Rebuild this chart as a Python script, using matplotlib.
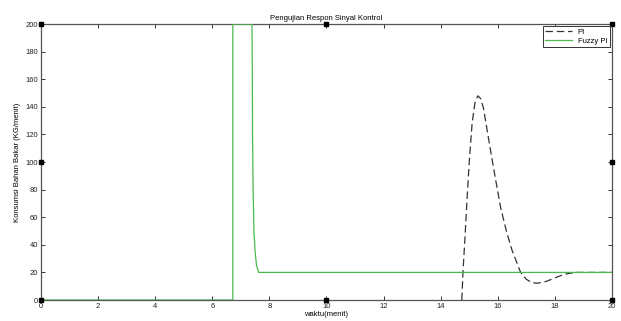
import matplotlib
matplotlib.use("Agg")
import matplotlib.pyplot as plt

# PI response (dashed)
pi_t = [14.74, 14.78, 14.85, 14.92, 15.0, 15.1, 15.2, 15.3, 15.4, 15.5, 15.7, 15.9,
        16.1, 16.3, 16.5, 16.8, 17.0, 17.2, 17.4, 17.7, 18.0, 18.3, 18.7, 20]
pi_v = [0, 20, 45, 72, 100, 128, 143, 148, 146, 139, 114, 90,
        67, 50, 36, 20, 15, 12.5, 12.2, 13.5, 16, 18.5, 20, 20]

# Fuzzy PI response
fz_t = [0, 6.72, 6.72, 7.39, 7.40, 7.41, 7.43, 7.46, 7.50, 7.55, 7.62, 7.70, 20]
fz_v = [0, 0, 200, 200, 175, 120, 80, 50, 35, 25, 20, 20, 20]

xticks = list(range(0, 21, 2))
yticks = list(range(0, 201, 20))

plt.rcParams['font.family'] = ['Liberation Sans', 'DejaVu Sans']
fig = plt.figure(figsize=(6.21, 3.21), dpi=100)
ax = fig.add_axes([0.066, 0.0654, 0.9195, 0.8596])

ax.plot(pi_t, pi_v, color="#333333", linestyle=(0, (6, 3)), linewidth=0.9, label="PI")
ax.plot(fz_t, fz_v, color="#4cb84c", linewidth=0.9, label="Fuzzy PI", zorder=3)

ax.set_xlim(0, 20)
ax.set_ylim(0, 200)
ax.set_xticks(xticks)
ax.set_yticks(yticks)
ax.tick_params(direction="in", length=3, width=0.7, labelsize=5.5, pad=2,
               top=True, right=True, color="#333333", labelcolor="#222222")
for s in ax.spines.values():
    s.set_color("#555555")
    s.set_linewidth(0.9)

ax.set_title("Pengujian Respon Sinyal Kontrol", fontsize=5.5, pad=3)
ax.set_xlabel("waktu(menit)", fontsize=5.5, labelpad=1)
ax.set_ylabel("Konsumsi Bahan Bakar (KG/menit)", fontsize=5.5, labelpad=3)

leg = ax.legend(loc="upper right", fontsize=5.5, fancybox=False, framealpha=1,
                edgecolor="#333333", handlelength=3.5, borderpad=0.3,
                labelspacing=0.2, borderaxespad=0.3)
leg.get_frame().set_linewidth(0.7)

# selection handles as in the original screenshot
handles = [(0, 0), (0, 0.5), (0, 1), (0.5, 0), (0.5, 1), (1, 0), (1, 0.5), (1, 1)]
for hx, hy in handles:
    ax.plot(hx, hy, marker="s", markersize=3, color="black", transform=ax.transAxes,
            clip_on=False, zorder=5)

fig.savefig("out.png", dpi=100)
